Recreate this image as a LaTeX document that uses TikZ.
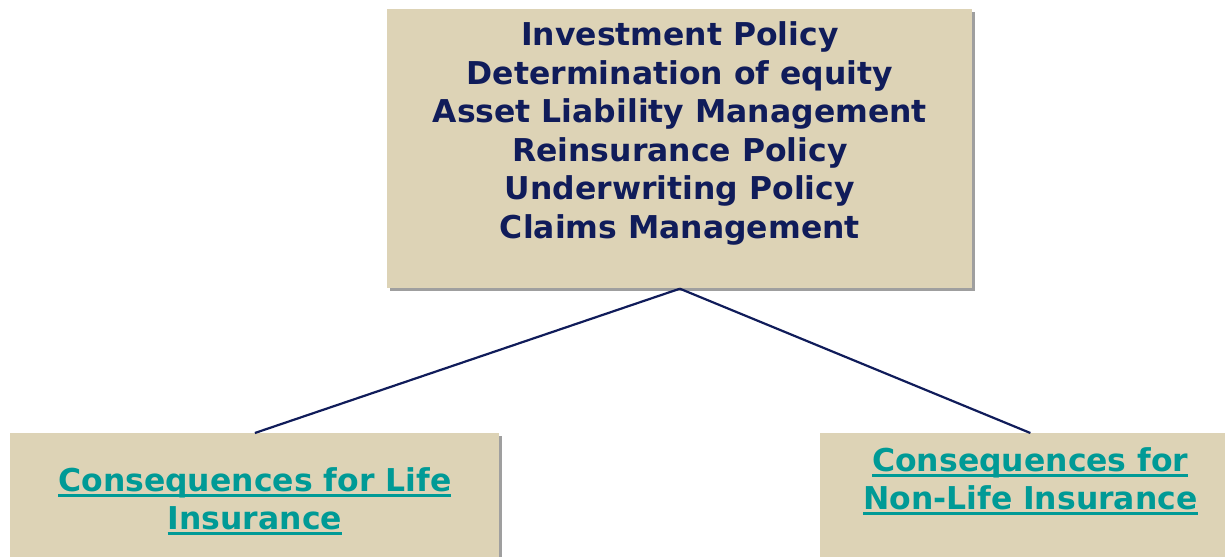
\documentclass[tikz,border=0pt]{standalone}
\usepackage{fontspec}
\setmainfont{DejaVu Sans}
\usepackage{xcolor}
\usepackage{tikz}
\usetikzlibrary{shadows}
\definecolor{panel}{HTML}{DDD3B6}
\definecolor{navytxt}{HTML}{101C5A}
\definecolor{linktxt}{HTML}{009A96}
\newsavebox{\linkbox}
\newcommand{\ulink}[1]{\leavevmode\sbox{\linkbox}{#1}\usebox{\linkbox}\kern-\wd\linkbox\raisebox{-3.2pt}{\rule{\wd\linkbox}{1.7pt}}}

\begin{document}
\begin{tikzpicture}[
  box/.style={fill=panel, draw=none, minimum width=#1, inner sep=0pt,
    drop shadow={shadow xshift=0.06cm, shadow yshift=-0.06cm, fill=gray!75, opacity=1}},
  label/.style={inner sep=0pt, align=center, font=\bfseries\fontsize{17.9}{21.9}\selectfont},
  link/.style={-, line width=1.25pt, draw=navytxt},
]
\useasboundingbox (0,0) rectangle (24.5,-11.14);
\clip (0,0) rectangle (24.5,-11.14);

% boxes
\node[box=11.7cm, minimum height=5.58cm, anchor=north west] (policy) at (7.74,-0.18) {};
\node[box=9.78cm, minimum height=3cm, anchor=north west] (life) at (0.2,-8.66) {};
\node[box=8.4cm, minimum height=3cm, anchor=north west] (nonlife) at (16.4,-8.66) {};

% texts
\node[label, text=navytxt, anchor=north] (policytxt) at ([yshift=-0.25cm]policy.north)
  {Investment Policy\\Determination of equity\\Asset Liability Management\\Reinsurance Policy\\Underwriting Policy\\Claims Management};
\node[label, text=linktxt, anchor=north] (lifetxt) at ([yshift=-0.68cm]life.north)
  {\ulink{Consequences for Life}\\\ulink{Insurance}};
\node[label, text=linktxt, anchor=north] (nonlifetxt) at ([yshift=-0.28cm]nonlife.north)
  {\ulink{Consequences for}\\\ulink{Non-Life Insurance}};

% connectors
\draw[link] (policy.south) -- (life.north);
\draw[link] (policy.south) -- (nonlife.north);
\end{tikzpicture}
\end{document}
